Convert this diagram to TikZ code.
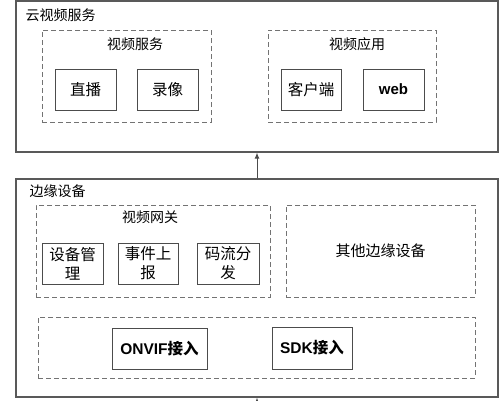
\documentclass[tikz,border=0pt]{standalone}
\usepackage{fontspec}
\newfontfamily\cjk{Noto Sans CJK SC}
\newfontfamily\lat{Liberation Sans}
\usetikzlibrary{arrows.meta}
\tikzset{
    outerbox/.style={draw=black!65, line width=1.2pt, inner sep=0pt},
    groupbox/.style={draw=black!55, dashed, line width=0.9pt, dash pattern=on 5pt off 3pt, inner sep=0pt},
    itembox/.style={draw=black!70, line width=0.9pt, inner sep=0pt, align=center, font=\cjk\fontsize{15.5}{19}\selectfont},
    grouplabel/.style={font=\cjk\fontsize{14}{17}\selectfont},
}
\begin{document}
\begin{tikzpicture}[x=1pt, y=-1pt]
    \useasboundingbox (0,0) rectangle (500,400);
    % cloud video service
    \node[outerbox, minimum width=482pt, minimum height=151pt] (cloud) at (257,76.5) {};
    \node[grouplabel, anchor=west] (cloudtitle) at (22,15) {云视频服务};
    \node[groupbox, minimum width=169pt, minimum height=92pt] (vservice) at (126.5,76) {};
    \node[grouplabel] (vservicetitle) at (135,44) {视频服务};
    \node[itembox, minimum width=61pt, minimum height=41pt] (live) at (85.5,89.5) {直播};
    \node[itembox, minimum width=61pt, minimum height=41pt] (record) at (167.5,89.5) {录像};
    \node[groupbox, minimum width=168pt, minimum height=92pt] (vapp) at (352,76) {};
    \node[grouplabel] (vapptitle) at (357,44) {视频应用};
    \node[itembox, minimum width=60pt, minimum height=41pt] (client) at (311,89.5) {客户端};
    \node[itembox, minimum width=61pt, minimum height=41pt, font=\lat\bfseries\fontsize{15}{18}\selectfont] (web) at (393.5,89.5) {web};
    % edge devices
    \node[outerbox, minimum width=482pt, minimum height=218pt] (edge) at (257,288) {};
    \node[grouplabel, anchor=west] (edgetitle) at (26,191) {边缘设备};
    \node[groupbox, minimum width=234pt, minimum height=92pt] (gateway) at (153,251) {};
    \node[grouplabel] (gatewaytitle) at (150,217) {视频网关};
    \node[itembox, minimum width=61pt, minimum height=41pt] (devmgmt) at (72.5,263.5) {设备管\\理};
    \node[itembox, minimum width=60pt, minimum height=41pt] (event) at (148,263.5) {事件上\\报};
    \node[itembox, minimum width=62pt, minimum height=41pt] (stream) at (228,263.5) {码流分\\发};
    \node[groupbox, minimum width=189pt, minimum height=92pt, font=\cjk\fontsize{15}{18}\selectfont] (otherdev) at (380.5,251) {其他边缘设备};
    \node[groupbox, minimum width=437pt, minimum height=61pt] (access) at (256.5,347.5) {};
    \node[itembox, minimum width=95pt, minimum height=41pt] (onvif) at (159.5,348.5) {{\lat\bfseries ONVIF}{\bfseries 接入}};
    \node[itembox, minimum width=80pt, minimum height=42pt] (sdk) at (312,348) {{\lat\bfseries SDK}{\bfseries 接入}};
    % connectors
    \coordinate (below) at (257,410);
    \draw[-{Latex[length=6pt,width=5pt]}, draw=black!70, line width=1pt] (edge.north) -- (cloud.south);
    \draw[-{Latex[length=6pt,width=5pt]}, draw=black!70, line width=1pt] (below) -- (edge.south);
\end{tikzpicture}
\end{document}
